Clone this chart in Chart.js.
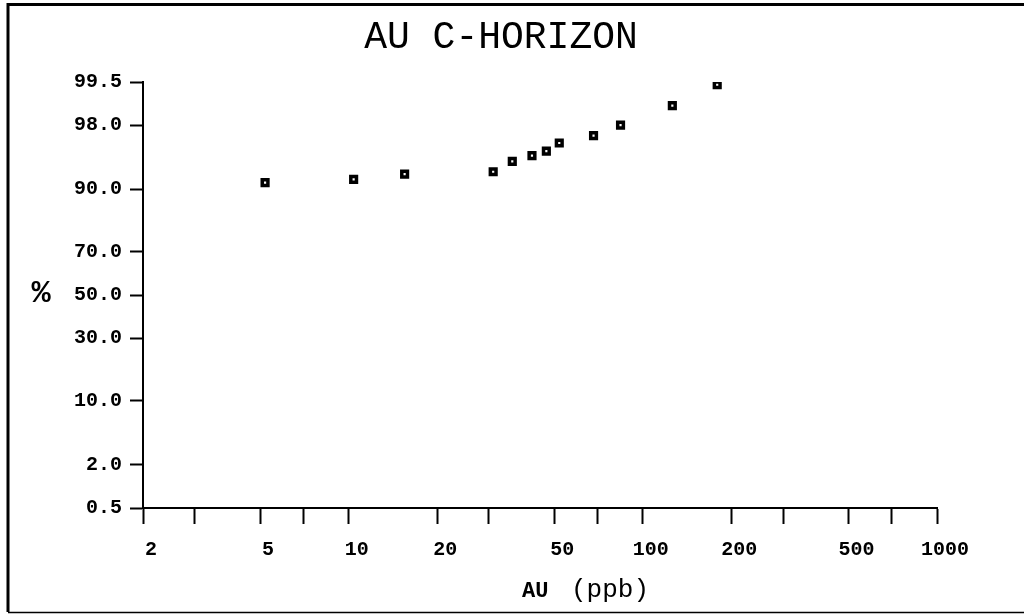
<!DOCTYPE html>
<html>
<head>
<meta charset="utf-8">
<script src="https://cdn.jsdelivr.net/npm/chart.js@4/dist/chart.umd.min.js"></script>
<style>
  html, body { margin: 0; padding: 0; background: #fff; }
  #wrap { width: 1024px; height: 614px; }
</style>
</head>
<body>
<div id="wrap"><canvas id="probplot"></canvas></div>
<script>
// Au in C-horizon soils, cumulative probability plot
const chartTitle = 'AU C-HORIZON';
const auPpb = [5.2, 10.4, 15.5, 31, 36, 42, 47, 52, 68, 84, 126, 179];       // x values (ppb)
const cumPercent = [91.3, 91.9, 92.8, 93.2, 94.7, 95.4, 95.9, 96.7, 97.3, 98.0, 98.9, 99.45]; // cumulative %
const xTickValues = [2, 3, 5, 7, 10, 20, 30, 50, 70, 100, 200, 300, 500, 700, 1000];
const xTickLabels = [2, 5, 10, 20, 50, 100, 200, 500, 1000];
const yTickPercents = [0.5, 2, 10, 30, 50, 70, 90, 98, 99.5];

// inverse normal cdf (Acklam) - probability axis is linear in z
function probit(p) {
    const a = [-39.69683028665376, 220.9460984245205, -275.9285104469687, 138.3577518672690, -30.66479806614716, 2.506628277459239];
    const b = [-54.47609879822406, 161.5858368580409, -155.6989798598866, 66.80131188771972, -13.28068155288572];
    const c = [-0.007784894002430293, -0.3223964580411365, -2.400758277161838, -2.549732539343734, 4.374664141464968, 2.938163982698783];
    const d = [0.007784695709041462, 0.3224671290700398, 2.445134137142996, 3.754408661907416];
    const pl = 0.02425;
    let q, r;
    if (p < pl) {
        q = Math.sqrt(-2 * Math.log(p));
        return (((((c[0]*q+c[1])*q+c[2])*q+c[3])*q+c[4])*q+c[5]) / ((((d[0]*q+d[1])*q+d[2])*q+d[3])*q+1);
    }
    if (p > 1 - pl) {
        q = Math.sqrt(-2 * Math.log(1 - p));
        return -(((((c[0]*q+c[1])*q+c[2])*q+c[3])*q+c[4])*q+c[5]) / ((((d[0]*q+d[1])*q+d[2])*q+d[3])*q+1);
    }
    q = p - 0.5;
    r = q * q;
    return (((((a[0]*r+a[1])*r+a[2])*r+a[3])*r+a[4])*r+a[5])*q / (((((b[0]*r+b[1])*r+b[2])*r+b[3])*r+b[4])*r+1);
}

const points = auPpb.map((v, i) => ({ x: v, y: probit(cumPercent[i] / 100) }));
const yTickZ = yTickPercents.map(p => probit(p / 100));

// frame + free text (title, % and axis caption)
const decorations = {
    id: 'decorations',
    beforeDraw(chart) {
        const ctx = chart.ctx;
        ctx.save();
        ctx.fillStyle = '#fff';
        ctx.fillRect(0, 0, chart.width, chart.height);
        ctx.restore();
    },
    afterDraw(chart) {
        const ctx = chart.ctx;
        ctx.save();
        ctx.strokeStyle = '#000';
        ctx.lineWidth = 3;
        ctx.beginPath();
        ctx.moveTo(1024, 4.5);
        ctx.lineTo(8, 4.5);
        ctx.lineTo(8, 612);
        ctx.stroke();
        ctx.lineWidth = 1.5;
        ctx.beginPath();
        ctx.moveTo(8, 612.5);
        ctx.lineTo(1024, 612.5);
        ctx.stroke();

        ctx.fillStyle = '#000';
        ctx.textBaseline = 'alphabetic';
        ctx.textAlign = 'center';
        ctx.font = '38px "Liberation Mono"';
        ctx.fillText(chartTitle, 501, 48);

        ctx.font = 'bold 32px "Liberation Mono"';
        ctx.fillText('%', 41, 302);

        ctx.textAlign = 'left';
        ctx.font = 'bold 22px "Liberation Mono"';
        ctx.fillText('AU', 522, 597);
        ctx.font = '26px "Liberation Mono"';
        ctx.fillText('(ppb)', 571, 597);
        ctx.restore();
    }
};

const tickFont = { family: '"Liberation Mono"', size: 20, weight: 'bold' };

const ctx = document.getElementById('probplot').getContext('2d');
const probChart = new Chart(ctx, {
    type: 'scatter',
    data: {
        datasets: [{
            data: points,
            pointStyle: 'rect',
            pointRadius: 4,
            pointBackgroundColor: '#fff',
            pointBorderColor: '#000',
            pointBorderWidth: 3.5,
        }],
    },
    options: {
        responsive: true,
        maintainAspectRatio: false,
        animation: false,
        layout: { padding: { left: 0, right: 87, top: 82, bottom: 50 } },
        plugins: { legend: { display: false }, tooltip: { enabled: false } },
        scales: {
            x: {
                type: 'logarithmic',
                min: 2,
                max: 1000,
                afterBuildTicks: (scale) => { scale.ticks = xTickValues.map(v => ({ value: v })); },
                afterFit: (scale) => { scale.height = 56; },
                ticks: {
                    color: '#000',
                    font: tickFont,
                    padding: 14,
                    maxRotation: 0,
                    autoSkip: false,
                    labelOffset: 8,
                    callback: (v) => xTickLabels.includes(v) ? String(v) : '',
                },
                grid: { drawOnChartArea: false, tickLength: 16, tickWidth: 2, tickColor: '#000' },
                border: { display: true, color: '#000', width: 2 },
            },
            y: {
                type: 'linear',
                min: yTickZ[0],
                max: yTickZ[yTickZ.length - 1],
                afterBuildTicks: (scale) => { scale.ticks = yTickZ.map(v => ({ value: v })); },
                afterFit: (scale) => { scale.width = 143; },
                ticks: {
                    color: '#000',
                    font: tickFont,
                    padding: 8,
                    autoSkip: false,
                    callback: (v, i) => yTickPercents[i].toFixed(1),
                },
                grid: { drawOnChartArea: false, tickLength: 13, tickWidth: 2, tickColor: '#000' },
                border: { display: true, color: '#000', width: 2 },
            },
        },
    },
    plugins: [decorations],
});
</script>
</body>
</html>
